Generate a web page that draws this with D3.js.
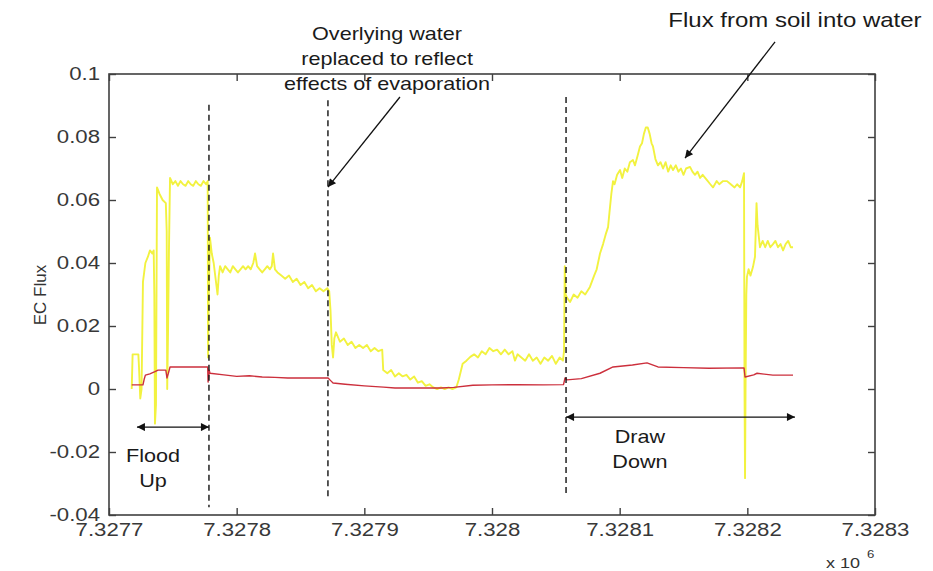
<!DOCTYPE html>
<html><head><meta charset="utf-8">
<script src="https://cdn.jsdelivr.net/npm/d3@7"></script>
<style>
body{margin:0;background:#fff}
svg{display:block}
text{font-family:"Liberation Sans",Arial,Helvetica,sans-serif}
</style>
</head><body>
<svg id="chart" width="933" height="571"></svg>
<script>
// ---------------- data ----------------
const xTicks = [7327700, 7327800, 7327900, 7328000, 7328100, 7328200, 7328300];
const yTicks = [-0.04, -0.02, 0, 0.02, 0.04, 0.06, 0.08, 0.1];
const yLabel = "EC Flux";
const xExponent = ["x 10", "6"];

// Yellow series: EC flux from soil into water  [time, flux]
const yellowSeries = [
  [7327717.8,0.000],[7327718.5,0.011],[7327723.0,0.011],[7327723.5,0.007],[7327724.5,-0.003],
  [7327725.5,0.000],[7327726.6,0.034],[7327728.5,0.040],[7327730.5,0.042],[7327732.1,0.044],
  [7327734.0,0.043],[7327735.0,0.044],[7327735.5,0.030],[7327736.0,-0.011],[7327736.8,-0.005],
  [7327737.6,0.064],[7327739.5,0.062],[7327742.0,0.060],[7327744.5,0.059],[7327745.2,0.050],
  [7327745.6,0.000],[7327746.3,0.020],[7327747.0,0.045],[7327747.8,0.067],[7327750,0.065],
  [7327752,0.066],[7327754,0.0645],[7327756,0.066],[7327758,0.065],[7327760,0.0645],
  [7327762,0.066],[7327764,0.065],[7327766,0.0645],[7327768,0.066],[7327770,0.065],
  [7327772,0.0645],[7327774,0.066],[7327776,0.065],[7327777.3,0.066],[7327777.6,0.010],
  [7327778.2,0.030],[7327779.1,0.048],[7327780.5,0.043],[7327782,0.040],[7327783.5,0.035],
  [7327785,0.030],[7327786,0.036],[7327787,0.039],[7327789,0.037],[7327791,0.039],
  [7327793,0.038],[7327795,0.037],[7327797,0.039],[7327799,0.038],[7327801,0.037],
  [7327803,0.038],[7327805,0.039],[7327807,0.038],[7327809,0.039],[7327811,0.038],
  [7327813,0.040],[7327814.4,0.043],[7327816,0.039],[7327818,0.038],[7327820,0.037],
  [7327822,0.038],[7327824,0.039],[7327826,0.038],[7327827.5,0.039],[7327828.5,0.043],
  [7327830,0.038],[7327832,0.037],[7327835,0.036],[7327838,0.035],[7327841,0.036],
  [7327844,0.034],[7327847,0.035],[7327850,0.033],[7327853,0.034],[7327856,0.032],
  [7327859,0.033],[7327862,0.031],[7327865,0.032],[7327868,0.031],[7327871,0.032],
  [7327872.5,0.031],[7327873.5,0.025],[7327874.5,0.014],[7327875.5,0.010],[7327876.5,0.016],
  [7327877.8,0.018],[7327880.9,0.015],[7327884,0.016],[7327887,0.014],[7327890,0.015],
  [7327893,0.013],[7327896,0.014],[7327899,0.013],[7327902,0.014],[7327905,0.012],
  [7327908,0.013],[7327911,0.012],[7327914,0.0125],[7327914.8,0.006],[7327918,0.005],
  [7327921,0.006],[7327924,0.004],[7327927,0.005],[7327930,0.004],[7327933,0.0045],
  [7327936,0.003],[7327939,0.004],[7327942,0.002],[7327945,0.0025],[7327948,0.001],
  [7327951,0.0015],[7327954,0.0005],[7327957,0.000],[7327960,0.0005],[7327963,0.000],
  [7327966,0.0005],[7327969,0.000],[7327972,0.0005],[7327974,0.003],[7327977,0.008],
  [7327980,0.009],[7327983,0.0102],[7327986,0.011],[7327989,0.010],[7327992,0.012],
  [7327995,0.011],[7327998,0.013],[7328001,0.012],[7328004,0.0125],[7328007,0.011],
  [7328010,0.0125],[7328013,0.011],[7328016,0.012],[7328018,0.009],[7328020,0.011],
  [7328023,0.010],[7328026,0.009],[7328029,0.011],[7328032,0.009],[7328035,0.010],
  [7328038,0.008],[7328041,0.010],[7328044,0.009],[7328047,0.0105],[7328050,0.008],
  [7328053,0.010],[7328055.6,0.009],[7328056.4,0.012],[7328057.0,0.039],[7328057.6,0.030],
  [7328058.7,0.029],[7328061.1,0.0276],[7328064,0.030],[7328067,0.029],[7328070,0.031],
  [7328073,0.030],[7328076.7,0.0324],[7328080,0.036],[7328082,0.038],[7328084.6,0.043],
  [7328087,0.046],[7328089,0.049],[7328090.9,0.0514],[7328092,0.056],[7328093.5,0.062],
  [7328094.8,0.066],[7328096,0.065],[7328098,0.068],[7328100.3,0.0695],[7328102,0.067],
  [7328104,0.070],[7328106,0.069],[7328108,0.072],[7328110.4,0.0727],[7328112,0.071],
  [7328114,0.074],[7328115.9,0.077],[7328117.5,0.078],[7328119,0.081],[7328120.5,0.083],
  [7328122,0.083],[7328123.5,0.081],[7328125,0.078],[7328126.1,0.077],[7328128,0.073],
  [7328130,0.071],[7328132,0.072],[7328134,0.070],[7328136,0.072],[7328138,0.069],
  [7328140,0.071],[7328141.8,0.0695],[7328144,0.071],[7328146,0.069],[7328148,0.070],
  [7328150,0.068],[7328152,0.070],[7328155.1,0.0705],[7328157,0.069],[7328159,0.068],
  [7328161,0.069],[7328163,0.067],[7328165,0.068],[7328168.4,0.0663],[7328171,0.065],
  [7328173.1,0.064],[7328176,0.066],[7328178,0.065],[7328181,0.066],[7328184.1,0.066],
  [7328187,0.065],[7328190,0.064],[7328192,0.065],[7328194.3,0.064],[7328196,0.066],
  [7328197.4,0.0685],[7328197.8,0.000],[7328198.2,-0.0283],[7328198.6,0.000],[7328199.2,0.030],
  [7328199.7,0.0356],[7328201,0.038],[7328202.5,0.036],[7328204.4,0.0387],[7328206,0.042],
  [7328207.2,0.059],[7328208,0.052],[7328209.9,0.045],[7328212,0.047],[7328214,0.045],
  [7328216,0.047],[7328218,0.045],[7328220.1,0.046],[7328222,0.047],[7328224,0.045],
  [7328226,0.046],[7328228,0.044],[7328230,0.046],[7328232,0.047],[7328234,0.045],
  [7328235.8,0.045]
];

// Red series  [time, flux]
const redSeries = [
  [7327717.8,0.0013],[7327726.6,0.0013],[7327727.5,0.003],[7327728.5,0.0044],[7327732,0.0048],
  [7327736,0.0055],[7327738.4,0.006],[7327744.5,0.006],[7327745.4,0.0035],[7327746.5,0.005],
  [7327747.8,0.007],[7327777.3,0.007],[7327777.6,0.0022],[7327778.5,0.006],[7327779.1,0.005],
  [7327790,0.0045],[7327800,0.004],[7327810,0.0042],[7327820,0.0038],[7327830,0.0037],
  [7327840,0.0035],[7327871.6,0.0035],[7327874,0.0025],[7327875.5,0.0019],[7327885,0.0015],
  [7327900,0.001],[7327915,0.0006],[7327924,0.0003],[7327960,0.0003],[7327970,0.0005],
  [7327985,0.0012],[7328000,0.0013],[7328020,0.0014],[7328040,0.0013],[7328056,0.0014],
  [7328057.2,0.0035],[7328058.7,0.0029],[7328070,0.0033],[7328084.6,0.005],[7328094.8,0.007],
  [7328110,0.0076],[7328121.4,0.0083],[7328130,0.007],[7328150,0.0068],[7328170,0.0066],
  [7328197.4,0.0067],[7328198.2,0.0038],[7328205,0.0045],[7328207.6,0.005],[7328220,0.0044],
  [7328235.8,0.0044]
];

// dashed event markers [time, top value, bottom value]
const eventLines = [
  [7327778.3, 0.0902, -0.0375],
  [7327871.5, 0.0917, -0.0343],
  [7328058.0, 0.0927, -0.0343]
];

// text annotations [lines, center time, first baseline value, line step (value), font size]
const textNotes = [
  [["Overlying water", "replaced to reflect", "effects of evaporation"], 7327917.8, 0.1108, 0.0080, 18],
  [["Flux from soil into water"], 7328237.3, 0.1149, 0, 20],
  [["Flood", "Up"], 7327734.5, -0.0232, 0.0079, 18],
  [["Draw", "Down"], 7328115.9, -0.0171, 0.0080, 18]
];

// single arrows [fromTime, fromValue, toTime, toValue]
const arrows = [
  [7327927.9, 0.0927, 7327871.5, 0.0641],
  [7328221.7, 0.1102, 7328151.2, 0.0733]
];

// double arrows [startTime, endTime, value]
const spans = [
  [7327721.9, 7327778.3, -0.0121],
  [7328058.0, 7328237.3, -0.0089]
];

// ---------------- drawing ----------------
const SX = 1.2; // horizontal glyph stretch of the reference text
const svg = d3.select("#chart");
const x = d3.scaleLinear().domain([7327700, 7328300]).range([109, 875]);
const y = d3.scaleLinear().domain([-0.04, 0.1]).range([515, 74]);

const defs = svg.append("defs");
defs.append("marker")
  .attr("id", "ah").attr("viewBox", "0 0 10 10")
  .attr("refX", 10).attr("refY", 5)
  .attr("markerWidth", 11).attr("markerHeight", 8)
  .attr("markerUnits", "userSpaceOnUse")
  .attr("orient", "auto-start-reverse")
  .append("path").attr("d", "M0,0 L10,5 L0,10 z").attr("fill", "#111");

// series
const line = d3.line().x(d => x(d[0])).y(d => y(d[1]));
svg.append("path").datum(yellowSeries)
  .attr("d", line).attr("fill", "none")
  .attr("stroke", "#f2f240").attr("stroke-width", 1.9).attr("stroke-linejoin", "round");
svg.append("path").datum(redSeries)
  .attr("d", line).attr("fill", "none")
  .attr("stroke", "#cc2f3c").attr("stroke-width", 1.4).attr("stroke-linejoin", "round");

// dashed event lines
svg.append("g").selectAll("line").data(eventLines).join("line")
  .attr("x1", d => x(d[0])).attr("x2", d => x(d[0]))
  .attr("y1", d => y(d[1])).attr("y2", d => y(d[2]))
  .attr("stroke", "#111").attr("stroke-width", 1.4).attr("stroke-dasharray", "6,4");

// axes (MATLAB style: box with inward ticks)
const axisColor = "#404040";
function styleAxis(g) {
  g.select(".domain").remove();
  g.selectAll(".tick line").attr("stroke", axisColor).attr("stroke-width", 1.4);
  g.selectAll("text").attr("fill", "#383838").style("font-size", "18.5px");
}
const gx = svg.append("g").attr("transform", "translate(0,515)")
  .call(d3.axisBottom(x).tickValues(xTicks).tickSizeInner(-7).tickSizeOuter(0).tickPadding(8)
    .tickFormat(d => String(+(d / 1e6).toFixed(4))))
  .call(styleAxis);
gx.selectAll("text").attr("transform", `scale(${SX},1)`);

const gy = svg.append("g").attr("transform", "translate(109,0)")
  .call(d3.axisLeft(y).tickValues(yTicks).tickSizeInner(-7).tickSizeOuter(0).tickPadding(9)
    .tickFormat(d => String(+d.toFixed(2))))
  .call(styleAxis);
gy.selectAll("text").attr("x", -9 / SX).attr("transform", `scale(${SX},1)`);

svg.append("g").attr("transform", "translate(0,74)")
  .call(d3.axisTop(x).tickValues(xTicks).tickSizeInner(-7).tickSizeOuter(0).tickFormat(""))
  .call(styleAxis);
svg.append("g").attr("transform", "translate(875,0)")
  .call(d3.axisRight(y).tickValues(yTicks).tickSizeInner(-7).tickSizeOuter(0).tickFormat(""))
  .call(styleAxis);

svg.append("rect")
  .attr("x", x.range()[0]).attr("y", y.range()[1])
  .attr("width", x.range()[1] - x.range()[0]).attr("height", y.range()[0] - y.range()[1])
  .attr("fill", "none").attr("stroke", axisColor).attr("stroke-width", 1.6);

// y-axis label
svg.append("text")
  .attr("transform", "translate(46,295) rotate(-90)")
  .attr("text-anchor", "middle").attr("fill", "#333")
  .style("font-size", "17px").text(yLabel);

// x 10^6
const ex = svg.append("g").attr("transform", "translate(826,568)");
ex.append("text").attr("transform", `scale(${SX},1)`).attr("fill", "#333")
  .style("font-size", "15px").text(xExponent[0]);
ex.append("text").attr("transform", `translate(41,-10) scale(${SX},1)`).attr("fill", "#333")
  .style("font-size", "11px").text(xExponent[1]);

// annotation text
textNotes.forEach(([lines, t, v, step, fs]) => {
  lines.forEach((s, i) => {
    svg.append("g").attr("transform", `translate(${x(t)},${y(v - i * step)})`)
      .append("text").attr("transform", `scale(${SX},1)`)
      .attr("text-anchor", "middle").attr("fill", "#1a1a1a")
      .style("font-size", fs + "px").text(s);
  });
});

// arrows
svg.append("g").selectAll("line").data(arrows).join("line")
  .attr("x1", d => x(d[0])).attr("y1", d => y(d[1]))
  .attr("x2", d => x(d[2])).attr("y2", d => y(d[3]))
  .attr("stroke", "#111").attr("stroke-width", 1.3).attr("marker-end", "url(#ah)");

svg.append("g").selectAll("line").data(spans).join("line")
  .attr("x1", d => x(d[0])).attr("y1", d => y(d[2]))
  .attr("x2", d => x(d[1])).attr("y2", d => y(d[2]))
  .attr("stroke", "#111").attr("stroke-width", 1.3)
  .attr("marker-start", "url(#ah)").attr("marker-end", "url(#ah)");
</script>
</body></html>
